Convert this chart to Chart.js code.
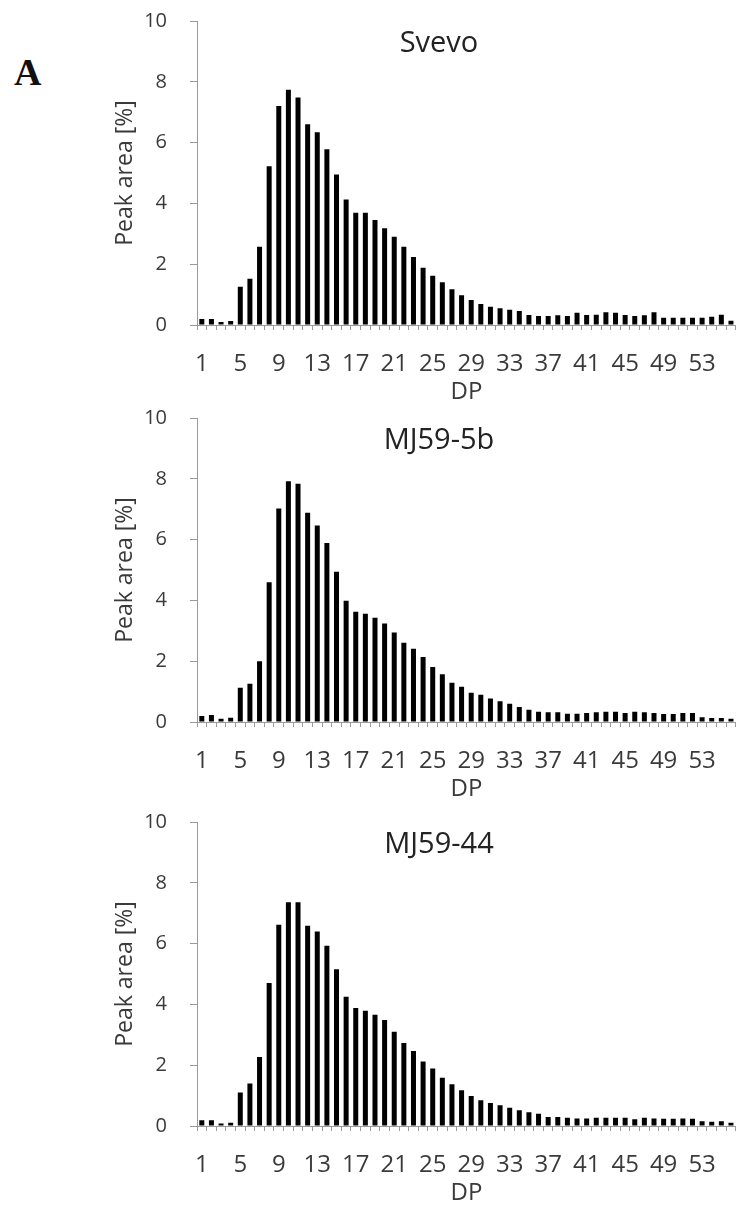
<!DOCTYPE html>
<html>
<head>
<meta charset="utf-8">
<script src="https://cdn.jsdelivr.net/npm/chart.js@4"></script>
<style>
  body { margin: 0; width: 751px; height: 1209px; overflow: hidden; background: #fff; position: relative; }
  canvas { position: absolute; left: 0; }
  #letter { position: absolute; left: 14px; top: 50px; font: bold 38px "Liberation Serif", serif; color: #111; }
</style>
</head>
<body>
<div id="letter">A</div>
<canvas id="c1" width="751" height="410" style="top:0px"></canvas>
<canvas id="c2" width="751" height="410" style="top:397px"></canvas>
<canvas id="c3" width="751" height="410" style="top:801px"></canvas>
<script>
// degree of polymerisation, one bar per DP
const dp = [1, 2, 3, 4, 5, 6, 7, 8, 9, 10, 11, 12, 13, 14, 15, 16, 17, 18, 19, 20,
  21, 22, 23, 24, 25, 26, 27, 28, 29, 30, 31, 32, 33, 34, 35, 36, 37, 38, 39, 40,
  41, 42, 43, 44, 45, 46, 47, 48, 49, 50, 51, 52, 53, 54, 55, 56];
const shownTicks = [1, 5, 9, 13, 17, 21, 25, 29, 33, 37, 41, 45, 49, 53];

// peak area [%] per DP
const svevo = [0.2, 0.2, 0.1, 0.13, 1.26, 1.52, 2.57, 5.22, 7.2, 7.74,
  7.48, 6.6, 6.34, 5.78, 4.95, 4.13, 3.69, 3.69, 3.45, 3.18,
  2.9, 2.57, 2.24, 1.88, 1.62, 1.41, 1.18, 0.98, 0.82, 0.69,
  0.6, 0.55, 0.5, 0.46, 0.33, 0.3, 0.3, 0.32, 0.3, 0.4,
  0.33, 0.34, 0.42, 0.4, 0.33, 0.3, 0.32, 0.42, 0.24, 0.24,
  0.24, 0.24, 0.24, 0.27, 0.34, 0.14];
const mj59_5b = [0.2, 0.23, 0.11, 0.14, 1.13, 1.26, 2.0, 4.6, 7.02, 7.92,
  7.84, 6.88, 6.46, 5.89, 4.94, 3.99, 3.63, 3.56, 3.43, 3.24,
  2.94, 2.61, 2.41, 2.14, 1.81, 1.57, 1.29, 1.16, 0.96, 0.9,
  0.77, 0.68, 0.6, 0.49, 0.4, 0.34, 0.32, 0.32, 0.27, 0.27,
  0.3, 0.32, 0.34, 0.34, 0.3, 0.34, 0.32, 0.3, 0.26, 0.26,
  0.3, 0.3, 0.16, 0.13, 0.13, 0.11];
const mj59_44 = [0.19, 0.19, 0.08, 0.11, 1.1, 1.4, 2.27, 4.7, 6.62, 7.36,
  7.36, 6.59, 6.4, 5.93, 5.16, 4.25, 3.88, 3.79, 3.66, 3.49,
  3.1, 2.73, 2.47, 2.12, 1.89, 1.59, 1.37, 1.18, 0.99, 0.85,
  0.76, 0.68, 0.6, 0.52, 0.45, 0.4, 0.3, 0.3, 0.27, 0.25,
  0.25, 0.27, 0.27, 0.27, 0.27, 0.22, 0.27, 0.25, 0.24, 0.24,
  0.25, 0.24, 0.16, 0.14, 0.16, 0.11];

const textColor = '#3a3a3a';
const axisColor = '#9a9a9a';

// line name written inside the plot, near the top
const panelTitle = {
  id: 'panelTitle',
  afterDraw(chart, args, opts) {
    const { ctx, chartArea } = chart;
    ctx.save();
    ctx.font = '29px "Open Sans"';
    ctx.fillStyle = '#222';
    ctx.textAlign = 'center';
    ctx.textBaseline = 'middle';
    ctx.fillText(opts.text, 439, chartArea.top + 23);
    ctx.restore();
  }
};

function makeChart(id, name, values) {
  new Chart(document.getElementById(id), {
    type: 'bar',
    data: {
      labels: dp,
      datasets: [{
        data: values,
        backgroundColor: '#000',
        barPercentage: 0.52,
        categoryPercentage: 1
      }]
    },
    options: {
      responsive: false,
      animation: false,
      layout: { padding: { left: 110, top: 21, right: 4, bottom: 0 } },
      plugins: {
        legend: { display: false },
        tooltip: { enabled: false },
        panelTitle: { text: name }
      },
      scales: {
        x: {
          afterFit(scale) { scale.height = 85; },
          grid: { drawOnChartArea: false, tickLength: 5, color: axisColor },
          border: { color: axisColor },
          ticks: {
            autoSkip: false,
            maxRotation: 0,
            padding: 20,
            color: textColor,
            font: { family: 'Open Sans', size: 24 },
            callback(value) {
              const d = dp[value];
              return shownTicks.includes(d) ? String(d) : '';
            }
          },
          title: {
            display: true,
            text: 'DP',
            color: textColor,
            font: { family: 'Open Sans', size: 24, lineHeight: 1 },
            padding: { top: 0, bottom: 6 }
          }
        },
        y: {
          min: 0,
          max: 10,
          afterFit(scale) {
            scale.width = 87;
            // keep the "10" label from pushing the plot down
            scale.paddingTop = 0;
            scale.paddingBottom = 0;
          },
          grid: { drawOnChartArea: false, tickLength: 7, color: axisColor },
          border: { color: axisColor },
          ticks: {
            stepSize: 2,
            padding: 23,
            color: textColor,
            font: { family: 'Open Sans', size: 20 }
          },
          title: {
            display: true,
            text: 'Peak area [%]',
            color: textColor,
            font: { family: 'Open Sans', size: 23, lineHeight: 1 },
            padding: { top: 4, bottom: 0 }
          }
        }
      }
    },
    plugins: [panelTitle]
  });
}

makeChart('c1', 'Svevo', svevo);
makeChart('c2', 'MJ59-5b', mj59_5b);
makeChart('c3', 'MJ59-44', mj59_44);
</script>
</body>
</html>
